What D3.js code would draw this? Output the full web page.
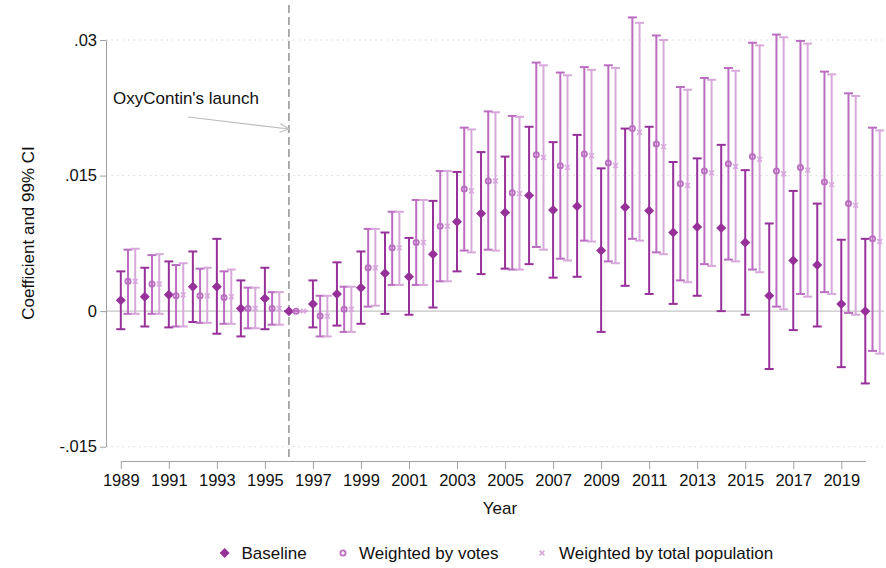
<!DOCTYPE html>
<html>
<head>
<meta charset="utf-8">
<script src="https://cdn.jsdelivr.net/npm/d3@7"></script>
<style>
  html, body { margin: 0; padding: 0; background: #fff; }
  svg { display: block; font-family: "Liberation Sans", Arial, sans-serif; }
</style>
</head>
<body>
<svg id="chart" width="886" height="568"></svg>
<script>
// Event-study coefficients by year with 99% confidence intervals
const years = [1989,1990,1991,1992,1993,1994,1995,1996,1997,1998,1999,2000,2001,2002,2003,2004,
               2005,2006,2007,2008,2009,2010,2011,2012,2013,2014,2015,2016,2017,2018,2019,2020];

const baseCoef = [0.0012,0.0016,0.0018,0.0027,0.0027,0.0003,0.0014,0,0.0008,0.0019,0.0026,0.0042,0.0038,0.0063,0.0099,0.0108,
                  0.0109,0.0128,0.0112,0.0116,0.0067,0.0115,0.0111,0.0087,0.0093,0.0092,0.0076,0.0017,0.0056,0.0051,0.0008,0.0000];
const baseLo   = [-0.0020,-0.0017,-0.0018,-0.0012,-0.0025,-0.0028,-0.0020,0,-0.0018,-0.0016,-0.0014,-0.0003,-0.0004,0.0004,0.0044,0.0041,
                  0.0047,0.0052,0.0037,0.0038,-0.0023,0.0028,0.0019,0.0008,0.0017,0.0000,-0.0004,-0.0064,-0.0021,-0.0017,-0.0062,-0.0080];
const baseHi   = [0.0044,0.0048,0.0055,0.0066,0.0080,0.0034,0.0048,0,0.0034,0.0054,0.0066,0.0087,0.0081,0.0122,0.0154,0.0176,
                  0.0171,0.0204,0.0187,0.0195,0.0158,0.0202,0.0204,0.0165,0.0169,0.0184,0.0156,0.0097,0.0133,0.0119,0.0079,0.0080];

const votesCoef = [0.0033,0.0030,0.0017,0.0017,0.0015,0.0003,0.0003,0,-0.00055,0.0002,0.0048,0.0070,0.0076,0.0094,0.0135,0.0144,
                   0.0131,0.0173,0.0161,0.0174,0.0164,0.0202,0.0185,0.0141,0.0155,0.0163,0.0171,0.0155,0.0159,0.0143,0.0119,0.0080];
const votesLo   = [-0.0003,-0.0003,-0.0017,-0.0013,-0.0014,-0.0019,-0.0015,0,-0.0028,-0.0023,0.0005,0.0029,0.0029,0.0033,0.0067,0.0068,
                   0.0046,0.0071,0.0058,0.0078,0.0055,0.0080,0.0065,0.0034,0.0052,0.0057,0.0046,0.0005,0.0019,0.0021,-0.0002,-0.0044];
const votesHi   = [0.0068,0.0062,0.0051,0.0047,0.0044,0.0026,0.0021,0,0.0017,0.0027,0.0091,0.0110,0.0123,0.0155,0.0203,0.0221,
                   0.0216,0.0275,0.0264,0.0270,0.0272,0.0325,0.0305,0.0248,0.0258,0.0269,0.0297,0.0306,0.0299,0.0265,0.0241,0.0203];

const popCoef = [0.0033,0.0030,0.0018,0.0017,0.0016,0.0003,0.0003,0,-0.00055,0.0002,0.0048,0.0070,0.0076,0.0094,0.0133,0.0144,
                 0.0130,0.0170,0.0159,0.0172,0.0161,0.0198,0.0182,0.0139,0.0153,0.0160,0.0168,0.0152,0.0156,0.0140,0.0117,0.0077];
const popLo   = [-0.0003,-0.0003,-0.0017,-0.0013,-0.0014,-0.0019,-0.0015,0,-0.0028,-0.0023,0.0006,0.0029,0.0029,0.0033,0.0065,0.0067,
                 0.0046,0.0068,0.0056,0.0077,0.0053,0.0078,0.0063,0.0032,0.0050,0.0055,0.0043,0.0002,0.0016,0.0019,-0.0004,-0.0047];
const popHi   = [0.0069,0.0063,0.0053,0.0048,0.0046,0.0026,0.0021,0,0.0017,0.0027,0.0091,0.0110,0.0123,0.0155,0.0201,0.0220,
                 0.0215,0.0272,0.0261,0.0267,0.0269,0.0319,0.0300,0.0245,0.0256,0.0266,0.0294,0.0303,0.0296,0.0262,0.0238,0.0200];

const xTickYears  = [1989,1991,1993,1995,1997,1999,2001,2003,2005,2007,2009,2011,2013,2015,2017,2019];
const yTickValues = [-0.015, 0, 0.015, 0.03];
const yTickLabels = ["-.015", "0", ".015", ".03"];
const launchYear = 1996;

const seriesNames = ["Baseline", "Weighted by votes", "Weighted by total population"];

const svg = d3.select("#chart");
const font = "'Liberation Sans', Arial, sans-serif";

const plot = { left: 106, right: 884, top: 5, bottom: 461 };

const x = d3.scaleLinear().domain([1989, 2020]).range([120.8, 865.3]);
const y = d3.scaleLinear().domain([-0.015, 0.03]).range([446.7, 40]);

const colors = ["#97319a", "#bb6dc1", "#d8a8dc"];
const offsets = [0, 0.3, 0.6];

// horizontal gridlines (dotted) and zero reference line
const gridVals = yTickValues.filter(v => v !== 0);
svg.append("g").selectAll("line").data(gridVals).join("line")
  .attr("x1", plot.left).attr("x2", plot.right)
  .attr("y1", d => y(d)).attr("y2", d => y(d))
  .attr("stroke", "#d9d9d9").attr("stroke-width", 1).attr("stroke-dasharray", "1.5,4");

svg.append("line")
  .attr("x1", plot.left).attr("x2", plot.right)
  .attr("y1", y(0)).attr("y2", y(0))
  .attr("stroke", "#c4c4c4").attr("stroke-width", 1.3);

// launch year marker
svg.append("line")
  .attr("x1", x(launchYear)).attr("x2", x(launchYear))
  .attr("y1", plot.top).attr("y2", plot.bottom)
  .attr("stroke", "#9a9a9a").attr("stroke-width", 1.6).attr("stroke-dasharray", "8,4");

// y axis
const yAxis = svg.append("g")
  .attr("transform", `translate(${plot.left},0)`)
  .call(d3.axisLeft(y).tickValues(yTickValues).tickFormat((d, i) => yTickLabels[i])
        .tickSize(6).tickSizeOuter(0).tickPadding(3));
yAxis.select(".domain").attr("stroke", "#a0a0a0");
yAxis.selectAll(".tick line").attr("stroke", "#a0a0a0");
yAxis.selectAll(".tick text").attr("font-size", 16.5).attr("font-family", font).attr("fill", "#111");

// x axis
const xAxis = svg.append("g")
  .attr("transform", `translate(0,${plot.bottom})`)
  .call(d3.axisBottom(x).tickValues(xTickYears).tickFormat(d3.format("d"))
        .tickSize(8).tickSizeOuter(0).tickPadding(5));
xAxis.select(".domain").attr("stroke", "#a0a0a0");
xAxis.selectAll(".tick line").attr("stroke", "#a0a0a0");
xAxis.selectAll(".tick text").attr("font-size", 16.5).attr("font-family", font).attr("fill", "#111");

// axis titles
svg.append("text")
  .attr("x", 500).attr("y", 514)
  .attr("text-anchor", "middle").attr("font-size", 17).attr("font-family", font).attr("fill", "#111")
  .text("Year");
svg.append("text")
  .attr("transform", `translate(34,${(plot.top + plot.bottom) / 2}) rotate(-90)`)
  .attr("text-anchor", "middle").attr("font-size", 17).attr("font-family", font).attr("fill", "#111")
  .text("Coefficient and 99% CI");

// series data
const series = [
  { coef: baseCoef,  lo: baseLo,  hi: baseHi },
  { coef: votesCoef, lo: votesLo, hi: votesHi },
  { coef: popCoef,   lo: popLo,   hi: popHi }
].map((s, k) => ({
  k,
  color: colors[k],
  pts: years.map((yr, i) => ({ yr: yr + offsets[k], c: s.coef[i], lo: s.lo[i], hi: s.hi[i] }))
}));

const capHalf = 4.5;
const diamondPath = r => `M0,${-r}L${r},0L0,${r}L${-r},0Z`;

function drawMarker(g, k, color) {
  if (k === 0) {
    g.append("path").attr("d", diamondPath(5)).attr("fill", color);
  } else if (k === 1) {
    g.append("circle").attr("r", 2.6).attr("fill", "none").attr("stroke", color).attr("stroke-width", 1.8);
  } else {
    g.append("path").attr("d", "M-2.4,-2.4L2.4,2.4M-2.4,2.4L2.4,-2.4")
      .attr("stroke", color).attr("stroke-width", 1.6).attr("fill", "none");
  }
}

series.forEach(s => {
  const g = svg.append("g");
  const bars = g.selectAll("g.bar").data(s.pts).join("g").attr("class", "bar");
  bars.append("line")
    .attr("x1", d => x(d.yr)).attr("x2", d => x(d.yr))
    .attr("y1", d => y(d.lo)).attr("y2", d => y(d.hi))
    .attr("stroke", s.color).attr("stroke-width", 2);
  bars.append("line")
    .attr("x1", d => x(d.yr) - capHalf).attr("x2", d => x(d.yr) + capHalf)
    .attr("y1", d => y(d.lo)).attr("y2", d => y(d.lo))
    .attr("stroke", s.color).attr("stroke-width", 2);
  bars.append("line")
    .attr("x1", d => x(d.yr) - capHalf).attr("x2", d => x(d.yr) + capHalf)
    .attr("y1", d => y(d.hi)).attr("y2", d => y(d.hi))
    .attr("stroke", s.color).attr("stroke-width", 2);
});

series.forEach(s => {
  s.pts.forEach(d => {
    const m = svg.append("g").attr("transform", `translate(${x(d.yr)},${y(d.c)})`);
    drawMarker(m, s.k, s.color);
  });
});

// annotation
svg.append("text")
  .attr("x", 113).attr("y", 104)
  .attr("font-size", 17).attr("font-family", font).attr("fill", "#111")
  .text("OxyContin's launch");

const ax0 = 188, ay0 = 117, ax1 = x(launchYear), ay1 = 129;
svg.append("line")
  .attr("x1", ax0).attr("y1", ay0).attr("x2", ax1).attr("y2", ay1)
  .attr("stroke", "#bdbdbd").attr("stroke-width", 1.2);
{
  const ang = Math.atan2(ay1 - ay0, ax1 - ax0);
  const len = 10, spread = 0.45;
  const p1 = [ax1 - len * Math.cos(ang - spread), ay1 - len * Math.sin(ang - spread)];
  const p2 = [ax1 - len * Math.cos(ang + spread), ay1 - len * Math.sin(ang + spread)];
  svg.append("path")
    .attr("d", `M${p1[0]},${p1[1]}L${ax1},${ay1}L${p2[0]},${p2[1]}`)
    .attr("fill", "none").attr("stroke", "#bdbdbd").attr("stroke-width", 1.2);
}

// legend
const legendItems = [
  { mx: 224.6, tx: 241.5 },
  { mx: 343,   tx: 359 },
  { mx: 542,   tx: 559 }
];
const ly = 553;
legendItems.forEach((it, k) => {
  const m = svg.append("g").attr("transform", `translate(${it.mx},${ly})`);
  drawMarker(m, k, colors[k]);
  svg.append("text")
    .attr("x", it.tx).attr("y", ly).attr("dy", "0.35em")
    .attr("font-size", 17).attr("font-family", font).attr("fill", "#111")
    .text(seriesNames[k]);
});
</script>
</body>
</html>
